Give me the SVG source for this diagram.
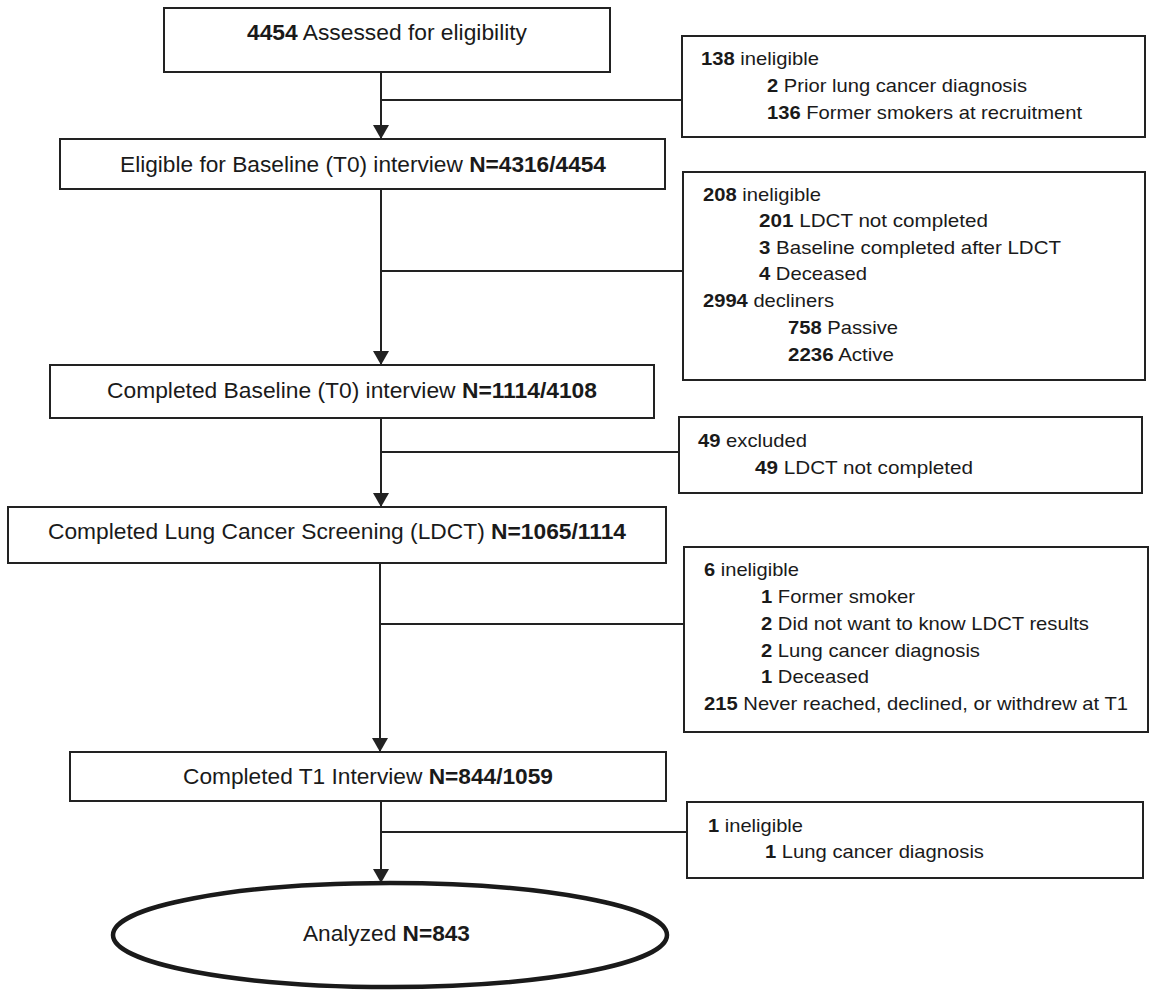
<svg xmlns="http://www.w3.org/2000/svg" width="1151" height="992" viewBox="0 0 1151 992">
<style>
.box{fill:#fff;stroke:#222;stroke-width:2}
.ell{fill:#fff;stroke:#1a1a1a;stroke-width:4.5}
.ln{fill:none;stroke:#222;stroke-width:2}
.m{font-family:"Liberation Sans",Arial,sans-serif;font-size:22px;fill:#1a1a1a}
.s{font-family:"Liberation Sans",Arial,sans-serif;font-size:19px;fill:#1a1a1a}
.b{font-weight:bold}
</style>
<defs>
<marker id="arr" markerUnits="userSpaceOnUse" viewBox="0 0 14 16" refX="14" refY="8" markerWidth="14" markerHeight="16" orient="auto">
<path d="M0,0 L14,8 L0,16 z" fill="#222"/>
</marker>
</defs>
<rect width="1151" height="992" fill="#fff"/>
<g id="connectors">
<line class="ln" x1="381" y1="72" x2="381" y2="139" marker-end="url(#arr)"/>
<line class="ln" x1="381" y1="100" x2="682" y2="100"/>
<line class="ln" x1="381" y1="189" x2="381" y2="365" marker-end="url(#arr)"/>
<line class="ln" x1="381" y1="271" x2="683" y2="271"/>
<line class="ln" x1="381" y1="418" x2="381" y2="507" marker-end="url(#arr)"/>
<line class="ln" x1="381" y1="452" x2="679" y2="452"/>
<line class="ln" x1="380" y1="563" x2="380" y2="752" marker-end="url(#arr)"/>
<line class="ln" x1="380" y1="624" x2="684" y2="624"/>
<line class="ln" x1="381" y1="801" x2="381" y2="883" marker-end="url(#arr)"/>
<line class="ln" x1="381" y1="832" x2="687" y2="832"/>
</g>
<g id="n1">
<rect class="box" x="164" y="8" width="446" height="64"/>
<text class="m" x="247" y="40" textLength="280" lengthAdjust="spacingAndGlyphs"><tspan class="b">4454</tspan> Assessed for eligibility</text>
</g>
<g id="n2">
<rect class="box" x="60" y="139" width="605" height="50"/>
<text class="m" x="120" y="172" textLength="486" lengthAdjust="spacingAndGlyphs">Eligible for Baseline (T0) interview <tspan class="b">N=4316/4454</tspan></text>
</g>
<g id="n3">
<rect class="box" x="50" y="365" width="604" height="53"/>
<text class="m" x="107" y="398" textLength="490" lengthAdjust="spacingAndGlyphs">Completed Baseline (T0) interview <tspan class="b">N=1114/4108</tspan></text>
</g>
<g id="n4">
<rect class="box" x="8" y="507" width="658" height="56"/>
<text class="m" x="48" y="539" textLength="578" lengthAdjust="spacingAndGlyphs">Completed Lung Cancer Screening (LDCT) <tspan class="b">N=1065/1114</tspan></text>
</g>
<g id="n5">
<rect class="box" x="70" y="752" width="596" height="49"/>
<text class="m" x="183" y="784" textLength="370" lengthAdjust="spacingAndGlyphs">Completed T1 Interview <tspan class="b">N=844/1059</tspan></text>
</g>
<g id="n6">
<ellipse class="ell" cx="390" cy="935" rx="277" ry="52"/>
<text class="m" x="303" y="941" textLength="167" lengthAdjust="spacingAndGlyphs">Analyzed <tspan class="b">N=843</tspan></text>
</g>
<g id="r1">
<rect class="box" x="682" y="36" width="463" height="101"/>
<text class="s" x="701" y="65" textLength="118" lengthAdjust="spacingAndGlyphs"><tspan class="b">138</tspan> ineligible</text>
<text class="s" x="767" y="92" textLength="260" lengthAdjust="spacingAndGlyphs"><tspan class="b">2</tspan> Prior lung cancer diagnosis</text>
<text class="s" x="767" y="119" textLength="315" lengthAdjust="spacingAndGlyphs"><tspan class="b">136</tspan> Former smokers at recruitment</text>
</g>
<g id="r2">
<rect class="box" x="683" y="172" width="462" height="208"/>
<text class="s" x="703" y="201" textLength="118" lengthAdjust="spacingAndGlyphs"><tspan class="b">208</tspan> ineligible</text>
<text class="s" x="759" y="227" textLength="229" lengthAdjust="spacingAndGlyphs"><tspan class="b">201</tspan> LDCT not completed</text>
<text class="s" x="759" y="254" textLength="302" lengthAdjust="spacingAndGlyphs"><tspan class="b">3</tspan> Baseline completed after LDCT</text>
<text class="s" x="759" y="280" textLength="108" lengthAdjust="spacingAndGlyphs"><tspan class="b">4</tspan> Deceased</text>
<text class="s" x="703" y="307" textLength="131" lengthAdjust="spacingAndGlyphs"><tspan class="b">2994</tspan> decliners</text>
<text class="s" x="788" y="334" textLength="110" lengthAdjust="spacingAndGlyphs"><tspan class="b">758</tspan> Passive</text>
<text class="s" x="788" y="361" textLength="106" lengthAdjust="spacingAndGlyphs"><tspan class="b">2236</tspan> Active</text>
</g>
<g id="r3">
<rect class="box" x="679" y="417" width="463" height="76"/>
<text class="s" x="698" y="447" textLength="109" lengthAdjust="spacingAndGlyphs"><tspan class="b">49</tspan> excluded</text>
<text class="s" x="755" y="474" textLength="218" lengthAdjust="spacingAndGlyphs"><tspan class="b">49</tspan> LDCT not completed</text>
</g>
<g id="r4">
<rect class="box" x="684" y="547" width="464" height="185"/>
<text class="s" x="704" y="576" textLength="95" lengthAdjust="spacingAndGlyphs"><tspan class="b">6</tspan> ineligible</text>
<text class="s" x="761" y="603" textLength="154" lengthAdjust="spacingAndGlyphs"><tspan class="b">1</tspan> Former smoker</text>
<text class="s" x="761" y="630" textLength="328" lengthAdjust="spacingAndGlyphs"><tspan class="b">2</tspan> Did not want to know LDCT results</text>
<text class="s" x="761" y="657" textLength="219" lengthAdjust="spacingAndGlyphs"><tspan class="b">2</tspan> Lung cancer diagnosis</text>
<text class="s" x="761" y="683" textLength="108" lengthAdjust="spacingAndGlyphs"><tspan class="b">1</tspan> Deceased</text>
<text class="s" x="704" y="710" textLength="424" lengthAdjust="spacingAndGlyphs"><tspan class="b">215</tspan> Never reached, declined, or withdrew at T1</text>
</g>
<g id="r5">
<rect class="box" x="687" y="802" width="456" height="76"/>
<text class="s" x="708" y="832" textLength="95" lengthAdjust="spacingAndGlyphs"><tspan class="b">1</tspan> ineligible</text>
<text class="s" x="765" y="858" textLength="219" lengthAdjust="spacingAndGlyphs"><tspan class="b">1</tspan> Lung cancer diagnosis</text>
</g>
</svg>
